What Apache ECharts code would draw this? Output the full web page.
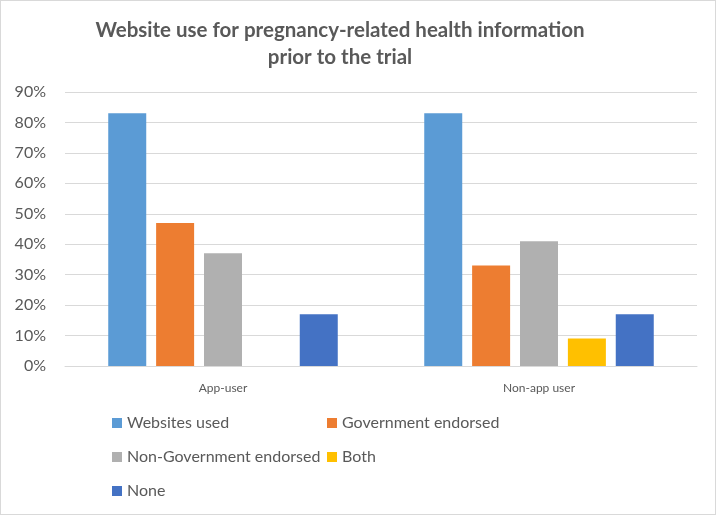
<!DOCTYPE html>
<html>
<head>
<meta charset="utf-8">
<script src="https://cdn.jsdelivr.net/npm/echarts@6/dist/echarts.min.js"></script>
<style>
  html, body { margin: 0; padding: 0; background: #fff; }
  #chart { width: 714px; height: 513px; border: 1px solid #d9d9d9; }
</style>
</head>
<body>
<div id="chart"></div>
<script>
const categories = ['App-user', 'Non-app user']
const websitesUsed = [83, 83]
const govEndorsed = [47, 33]
const nonGovEndorsed = [37, 41]
const both = [null, 9]
const none = [17, 17]
const yTicks = [0, 10, 20, 30, 40, 50, 60, 70, 80, 90]

const font = 'Lato, "Open Sans", sans-serif'
const grey = '#595959'

const chart = echarts.init(document.getElementById('chart'))

const mkSeries = (name, data, color) => ({
  name: name,
  type: 'bar',
  data: data,
  barWidth: 38,
  barGap: '26%',
  itemStyle: { color: color },
  emphasis: { disabled: true }
})

const option = {
  animation: false,
  textStyle: { fontFamily: font },
  title: {
    text: 'Website use for pregnancy-related health information\nprior to the trial',
    left: 334,
    textAlign: 'center',
    top: 11,
    textStyle: { fontFamily: font, fontSize: 20.5, fontWeight: 'bold', color: grey, lineHeight: 27 }
  },
  grid: { left: 64, right: 18, top: 91, bottom: 148 },
  legend: [
    {
      orient: 'vertical',
      left: 106,
      top: 407,
      itemWidth: 10,
      itemHeight: 10,
      itemGap: 14,
      icon: 'rect',
      data: ['Websites used', 'Non-Government endorsed', 'None'],
      textStyle: { fontFamily: font, fontSize: 16, color: grey, lineHeight: 20 }
    },
    {
      orient: 'vertical',
      left: 321,
      top: 407,
      itemWidth: 10,
      itemHeight: 10,
      itemGap: 14,
      icon: 'rect',
      data: ['Government endorsed', 'Both'],
      textStyle: { fontFamily: font, fontSize: 16, color: grey, lineHeight: 20 }
    }
  ],
  xAxis: {
    type: 'category',
    data: categories,
    axisLine: { lineStyle: { color: '#d9d9d9' } },
    axisTick: { show: false },
    axisLabel: { color: grey, fontSize: 12, margin: 16 }
  },
  yAxis: {
    type: 'value',
    min: yTicks[0],
    max: yTicks[yTicks.length - 1],
    interval: 10,
    axisLine: { show: false },
    axisTick: { show: false },
    axisLabel: { color: grey, fontSize: 16, margin: 19, formatter: '{value}%' },
    splitLine: { lineStyle: { color: '#d9d9d9' } }
  },
  series: [
    mkSeries('Websites used', websitesUsed, '#5b9bd5'),
    mkSeries('Government endorsed', govEndorsed, '#ed7d31'),
    mkSeries('Non-Government endorsed', nonGovEndorsed, '#b0b0b0'),
    mkSeries('Both', both, '#ffc000'),
    mkSeries('None', none, '#4472c4')
  ]
}

chart.setOption(option)
</script>
</body>
</html>
